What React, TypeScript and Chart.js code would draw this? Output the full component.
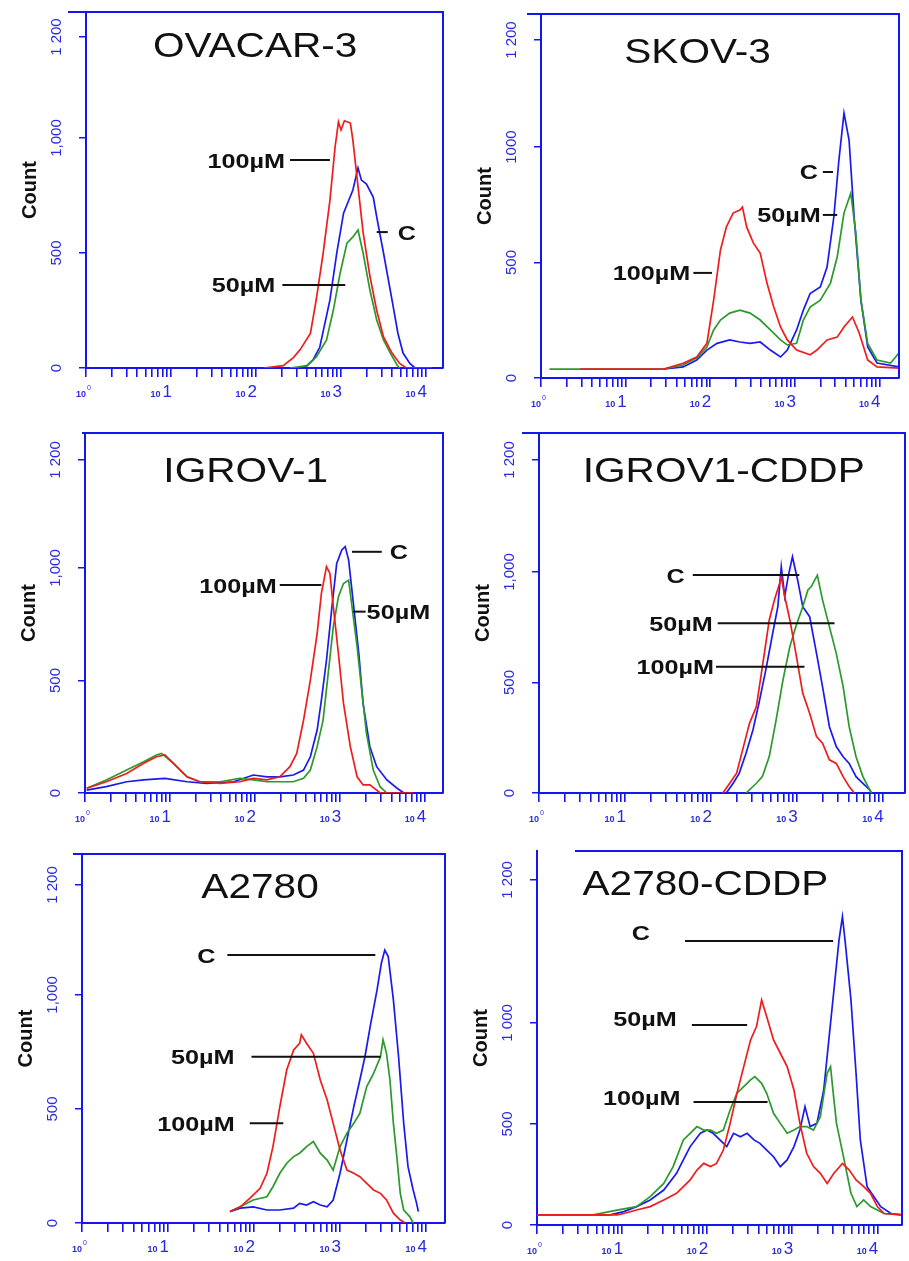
import React, { useEffect, useRef } from 'react';
import { Chart, registerables } from 'chart.js';

Chart.register(...registerables);

type Pt = [number, number]; // [log10 fluorescence, count]

// ---------- OVACAR-3 ----------
const OVACAR_100: Pt[] = [[2.09,0],[2.32,10],[2.44,45],[2.52,80],[2.64,150],[2.71,300],[2.79,500],[2.87,730],[2.93,960],[2.97,1070],[3.0,1035],[3.04,1075],[3.11,1065],[3.14,990],[3.2,790],[3.26,590],[3.34,400],[3.42,250],[3.5,135],[3.6,65],[3.69,20],[3.77,0],[4.07,0]];
const OVACAR_50: Pt[] = [[2.4,0],[2.6,10],[2.71,48],[2.83,122],[2.91,252],[2.99,413],[3.07,543],[3.14,570],[3.17,585],[3.2,600],[3.26,500],[3.34,339],[3.42,209],[3.5,122],[3.58,65],[3.66,13],[3.69,0]];
const OVACAR_C: Pt[] = [[2.52,0],[2.6,10],[2.67,35],[2.75,90],[2.87,296],[2.95,500],[3.03,673],[3.14,774],[3.2,870],[3.24,817],[3.3,800],[3.38,742],[3.42,657],[3.5,500],[3.6,296],[3.67,150],[3.73,65],[3.81,20],[3.87,0]];

// ---------- SKOV-3 ----------
const SKOV_100: Pt[] = [[0.46,38],[1.44,38],[1.68,64],[1.84,91],[1.96,150],[2.04,337],[2.12,554],[2.19,654],[2.27,714],[2.35,727],[2.38,740],[2.43,654],[2.51,584],[2.59,541],[2.67,411],[2.75,307],[2.83,221],[2.91,165],[3.02,121],[3.18,100],[3.26,121],[3.38,165],[3.5,177],[3.58,221],[3.68,264],[3.76,195],[3.86,78],[3.97,48],[4.23,43]];
const SKOV_50: Pt[] = [[0.1,38],[1.44,38],[1.68,56],[1.84,87],[1.96,134],[2.04,208],[2.12,251],[2.23,281],[2.35,294],[2.47,281],[2.59,251],[2.71,208],[2.83,165],[2.91,143],[3.02,150],[3.1,251],[3.18,307],[3.3,337],[3.42,411],[3.5,524],[3.58,714],[3.66,800],[3.72,627],[3.78,337],[3.86,150],[3.97,78],[4.13,65],[4.23,108]];
const SKOV_C: Pt[] = [[1.44,38],[1.68,48],[1.84,78],[1.96,121],[2.08,150],[2.23,165],[2.35,156],[2.47,150],[2.59,156],[2.71,121],[2.83,91],[2.91,121],[3.02,208],[3.1,294],[3.18,366],[3.3,394],[3.38,480],[3.46,697],[3.52,944],[3.58,1147],[3.64,1030],[3.7,697],[3.78,337],[3.86,134],[3.97,65],[4.23,48]];

// ---------- IGROV-1 ----------
const IGROV_100: Pt[] = [[0.02,21],[0.25,50],[0.49,87],[0.69,132],[0.84,161],[0.94,169],[1.04,132],[1.2,72],[1.35,50],[1.59,43],[1.82,50],[1.98,65],[2.14,58],[2.29,72],[2.41,117],[2.49,176],[2.57,324],[2.65,502],[2.73,709],[2.78,887],[2.84,1006],[2.88,976],[2.92,828],[2.98,620],[3.04,398],[3.12,206],[3.2,72],[3.27,36],[3.35,36],[3.43,13],[3.47,0],[3.86,0]];
const IGROV_50: Pt[] = [[0.02,21],[0.25,58],[0.49,102],[0.69,139],[0.84,169],[0.9,176],[1.04,132],[1.2,72],[1.35,50],[1.59,50],[1.82,65],[1.98,58],[2.14,50],[2.29,50],[2.45,50],[2.57,65],[2.65,102],[2.73,206],[2.8,324],[2.86,532],[2.92,739],[2.98,872],[3.04,931],[3.1,946],[3.14,828],[3.2,650],[3.25,472],[3.31,265],[3.39,102],[3.47,28],[3.55,0]];
const IGROV_C: Pt[] = [[0.02,13],[0.25,28],[0.49,50],[0.69,58],[0.94,65],[1.2,50],[1.43,43],[1.75,50],[1.98,80],[2.14,72],[2.29,72],[2.45,80],[2.57,102],[2.65,161],[2.73,280],[2.78,413],[2.84,591],[2.9,813],[2.96,1020],[3.02,1080],[3.06,1095],[3.1,1036],[3.16,828],[3.22,620],[3.27,398],[3.35,206],[3.43,117],[3.55,58],[3.67,21],[3.75,0]];

// ---------- IGROV1-CDDP ----------
const IGCD_100: Pt[] = [[2.14,0],[2.22,44],[2.3,90],[2.37,195],[2.45,315],[2.53,391],[2.6,572],[2.68,783],[2.74,873],[2.8,948],[2.82,979],[2.86,889],[2.92,783],[2.99,632],[3.07,451],[3.15,361],[3.23,255],[3.3,225],[3.38,150],[3.46,134],[3.54,74],[3.61,29],[3.67,0]];
const IGCD_50: Pt[] = [[2.41,0],[2.53,44],[2.6,74],[2.68,165],[2.76,331],[2.84,512],[2.92,663],[2.99,753],[3.07,843],[3.13,919],[3.17,934],[3.21,964],[3.24,985],[3.3,874],[3.38,753],[3.46,632],[3.54,481],[3.61,300],[3.69,164],[3.77,74],[3.83,29],[3.87,0]];
const IGCD_C: Pt[] = [[2.18,0],[2.26,44],[2.33,89],[2.41,180],[2.49,285],[2.56,406],[2.64,557],[2.72,723],[2.78,843],[2.82,1024],[2.86,889],[2.9,979],[2.95,1069],[3.01,964],[3.07,843],[3.15,798],[3.23,632],[3.3,481],[3.38,300],[3.46,210],[3.54,164],[3.61,134],[3.69,74],[3.77,44],[3.85,14],[3.87,0]];

// ---------- A2780 ----------
const A27_100: Pt[] = [[1.72,50],[1.84,71],[1.95,108],[2.07,152],[2.15,218],[2.22,335],[2.3,510],[2.38,671],[2.46,759],[2.53,788],[2.55,825],[2.61,788],[2.69,744],[2.77,627],[2.85,539],[2.92,437],[3.0,320],[3.08,232],[3.16,218],[3.23,203],[3.31,174],[3.39,145],[3.47,130],[3.54,101],[3.62,43],[3.7,13],[3.76,0]];
const A27_50: Pt[] = [[1.72,50],[1.84,71],[1.99,101],[2.15,115],[2.22,159],[2.3,218],[2.38,262],[2.46,291],[2.53,306],[2.61,335],[2.69,357],[2.77,306],[2.85,276],[2.92,232],[3.0,335],[3.08,394],[3.16,437],[3.23,481],[3.31,598],[3.39,656],[3.47,729],[3.5,803],[3.54,744],[3.58,627],[3.62,437],[3.66,291],[3.7,130],[3.74,57],[3.81,28],[3.85,0]];
const A27_C: Pt[] = [[1.72,50],[1.84,65],[1.99,71],[2.15,57],[2.3,57],[2.46,65],[2.53,86],[2.61,79],[2.69,93],[2.77,79],[2.85,71],[2.92,101],[3.0,218],[3.08,364],[3.16,510],[3.23,627],[3.29,730],[3.35,861],[3.43,1022],[3.48,1139],[3.52,1197],[3.56,1168],[3.62,978],[3.68,730],[3.74,437],[3.79,247],[3.85,145],[3.89,86],[3.91,50]];

// ---------- A2780-CDDP ----------
const A27CD_100: Pt[] = [[0,50],[0.94,50],[1.02,57],[1.17,74],[1.33,91],[1.49,124],[1.64,157],[1.72,190],[1.8,223],[1.88,272],[1.96,305],[2.04,289],[2.11,305],[2.19,371],[2.27,503],[2.35,652],[2.43,784],[2.51,916],[2.58,982],[2.64,1114],[2.7,1031],[2.78,916],[2.86,850],[2.94,784],[3.02,668],[3.09,503],[3.17,355],[3.25,289],[3.33,256],[3.41,206],[3.49,256],[3.59,305],[3.67,272],[3.75,223],[3.84,190],[3.92,157],[4.0,91],[4.08,57],[4.29,50]];
const A27CD_50: Pt[] = [[0,50],[0.66,50],[0.94,74],[1.17,91],[1.33,140],[1.49,206],[1.6,289],[1.72,421],[1.8,454],[1.88,487],[1.96,470],[2.04,470],[2.11,454],[2.19,470],[2.27,569],[2.35,652],[2.43,685],[2.51,718],[2.56,734],[2.64,701],[2.7,652],[2.78,553],[2.86,503],[2.94,454],[3.02,470],[3.09,487],[3.17,487],[3.25,470],[3.33,536],[3.41,751],[3.45,784],[3.49,619],[3.52,503],[3.61,322],[3.69,157],[3.76,91],[3.84,124],[3.92,91],[4.0,74],[4.08,57],[4.29,50]];
const A27CD_C: Pt[] = [[0,50],[0.86,50],[1.02,66],[1.17,91],[1.33,124],[1.49,173],[1.64,256],[1.72,322],[1.8,388],[1.92,454],[2.0,470],[2.07,454],[2.15,421],[2.23,388],[2.31,454],[2.39,437],[2.47,454],[2.55,421],[2.62,404],[2.7,371],[2.78,338],[2.86,289],[2.94,322],[3.02,388],[3.09,470],[3.15,586],[3.21,487],[3.29,503],[3.37,668],[3.43,916],[3.49,1163],[3.55,1411],[3.59,1526],[3.62,1411],[3.69,1114],[3.75,751],[3.8,421],[3.88,190],[3.96,140],[4.04,91],[4.16,57],[4.29,50]];

// ---------- axis ticks ----------
const X_DECADES = [0, 1, 2, 3, 4];
const X_MULTIPLIERS = [1, 2, 3, 4, 5, 6, 7, 8, 9];
const Y_LABELS_COMMA = ['0', '500', '1,000', '1 200'];
const Y_LABELS_PLAIN = ['0', '500', '1000', '1 200'];
const Y_LABELS_SPACE = ['0', '500', '1 000', '1 200'];

// ---------- styles ----------
const AXIS_BLUE = '#1515f2';
const TEXT_BLUE = '#2a2ade';
const RED = '#f01c1c';
const GREEN = '#2b9a2b';
const BLUE = '#1a1af0';
const FONT = '"Liberation Sans", Arial, Helvetica, sans-serif';
const AXIS_W = 86;
const PAD_T = 10;
const PAD_R = 4;
const XAXIS_H = 36;

interface Note { text: string; x1: number; x2: number; y: number; side: 'left' | 'right'; gap: number; dy?: number }
interface PanelSpec {
  title: string;
  titleAt: [number, number];
  area: { left: number; top: number; right: number; bottom: number };
  frameTopFrom: number;
  xMaxExp: number;
  yMax: number;
  yTicks: number[];
  yLabels: string[];
  red: Pt[]; green: Pt[]; blue: Pt[];
  notes: Note[];
}

const PANELS: PanelSpec[] = [
  {
    title: 'OVACAR-3', titleAt: [1.99, 1406],
    area: { left: 86, top: 12, right: 443, bottom: 368 }, frameTopFrom: -18,
    xMaxExp: 4.2, yMax: 1548, yTicks: [0, 500, 1000, 1439], yLabels: Y_LABELS_COMMA,
    red: OVACAR_100, green: OVACAR_50, blue: OVACAR_C,
    notes: [
      { text: '100µM', x1: 2.4, x2: 2.87, y: 904, side: 'left', gap: 5 },
      { text: 'C', x1: 3.42, x2: 3.55, y: 591, side: 'right', gap: 10 },
      { text: '50µM', x1: 2.31, x2: 3.05, y: 361, side: 'left', gap: 7 },
    ],
  },
  {
    title: 'SKOV-3', titleAt: [1.85, 1420],
    area: { left: 541, top: 14, right: 899, bottom: 378 }, frameTopFrom: -14,
    xMaxExp: 4.23, yMax: 1576, yTicks: [0, 500, 1000, 1463], yLabels: Y_LABELS_PLAIN,
    red: SKOV_100, green: SKOV_50, blue: SKOV_C,
    notes: [
      { text: 'C', x1: 3.33, x2: 3.45, y: 892, side: 'left', gap: 5 },
      { text: '50µM', x1: 3.33, x2: 3.5, y: 706, side: 'left', gap: 2 },
      { text: '100µM', x1: 1.8, x2: 2.02, y: 455, side: 'left', gap: 3 },
    ],
  },
  {
    title: 'IGROV-1', titleAt: [1.89, 1436],
    area: { left: 85, top: 433, right: 443, bottom: 793 }, frameTopFrom: -3,
    xMaxExp: 4.21, yMax: 1600, yTicks: [0, 500, 1000, 1480], yLabels: Y_LABELS_COMMA,
    red: IGROV_100, green: IGROV_50, blue: IGROV_C,
    notes: [
      { text: 'C', x1: 3.14, x2: 3.49, y: 1072, side: 'right', gap: 8 },
      { text: '100µM', x1: 2.29, x2: 2.78, y: 924, side: 'left', gap: 3 },
      { text: '50µM', x1: 3.15, x2: 3.3, y: 806, side: 'right', gap: 1 },
    ],
  },
  {
    title: 'IGROV1-CDDP', titleAt: [2.15, 1462],
    area: { left: 539, top: 433, right: 905, bottom: 793 }, frameTopFrom: -17,
    xMaxExp: 4.26, yMax: 1629, yTicks: [0, 500, 1000, 1507], yLabels: Y_LABELS_COMMA,
    red: IGCD_100, green: IGCD_50, blue: IGCD_C,
    notes: [
      { text: 'C', x1: 1.79, x2: 3.03, y: 986, side: 'left', gap: 8 },
      { text: '50µM', x1: 2.08, x2: 3.44, y: 768, side: 'left', gap: 5 },
      { text: '100µM', x1: 2.06, x2: 3.09, y: 571, side: 'left', gap: 2 },
    ],
  },
  {
    title: 'A2780', titleAt: [2.07, 1478],
    area: { left: 82, top: 854, right: 445, bottom: 1223 }, frameTopFrom: -9,
    xMaxExp: 4.22, yMax: 1618, yTicks: [0, 500, 1000, 1482], yLabels: Y_LABELS_COMMA,
    red: A27_100, green: A27_50, blue: A27_C,
    notes: [
      { text: 'C', x1: 1.69, x2: 3.41, y: 1175, side: 'left', gap: 12 },
      { text: '50µM', x1: 1.97, x2: 3.47, y: 729, side: 'left', gap: 17 },
      { text: '100µM', x1: 1.95, x2: 2.34, y: 437, side: 'left', gap: 15 },
    ],
  },
  {
    title: 'A2780-CDDP', titleAt: [1.98, 1693],
    area: { left: 537, top: 851, right: 902, bottom: 1225 }, frameTopFrom: 38,
    xMaxExp: 4.29, yMax: 1851, yTicks: [0, 500, 1000, 1708], yLabels: Y_LABELS_SPACE,
    red: A27CD_100, green: A27CD_50, blue: A27CD_C,
    notes: [
      { text: 'C', x1: 1.74, x2: 3.48, y: 1406, side: 'left', gap: 35, dy: -8 },
      { text: '50µM', x1: 1.82, x2: 2.47, y: 990, side: 'left', gap: 15, dy: -6 },
      { text: '100µM', x1: 1.84, x2: 2.71, y: 609, side: 'left', gap: 13, dy: -4 },
    ],
  },
];

function makeDecor(spec: PanelSpec) {
  return {
    id: 'decor',
    afterDraw(chart: any) {
      const ctx: CanvasRenderingContext2D = chart.ctx;
      const xs = chart.scales.x;
      const ys = chart.scales.y;
      const { left, right, top, bottom } = chart.chartArea;
      const px = (e: number) => xs.getPixelForValue(Math.pow(10, e));
      const py = (c: number) => ys.getPixelForValue(c);
      ctx.save();

      // frame (top + right)
      ctx.strokeStyle = AXIS_BLUE;
      ctx.lineWidth = 2;
      ctx.beginPath();
      ctx.moveTo(left + spec.frameTopFrom, top);
      ctx.lineTo(right, top);
      ctx.lineTo(right, bottom);
      ctx.stroke();

      // y tick labels (rotated)
      ctx.fillStyle = TEXT_BLUE;
      ctx.font = `15px ${FONT}`;
      ctx.textAlign = 'center';
      ctx.textBaseline = 'alphabetic';
      spec.yTicks.forEach((v, i) => {
        ctx.save();
        ctx.translate(left - 30, py(v));
        ctx.rotate(-Math.PI / 2);
        ctx.fillText(spec.yLabels[i], 0, 15 * 0.358);
        ctx.restore();
      });

      // y title
      ctx.fillStyle = '#111';
      ctx.font = `bold 20px ${FONT}`;
      ctx.save();
      ctx.translate(left - 57, (top + bottom) / 2);
      ctx.rotate(-Math.PI / 2);
      ctx.fillText('Count', 0, 20 * 0.358);
      ctx.restore();

      // x decade labels
      ctx.fillStyle = TEXT_BLUE;
      const base = bottom + 29;
      X_DECADES.forEach((k) => {
        const x = px(k);
        if (k === 0) {
          ctx.font = `bold 9px ${FONT}`;
          ctx.textAlign = 'right';
          ctx.fillText('10', x, base);
          ctx.font = `7px ${FONT}`;
          ctx.textAlign = 'left';
          ctx.fillText(String(k), x + 1, base - 7);
        } else {
          ctx.font = `17px ${FONT}`;
          ctx.textAlign = 'right';
          ctx.fillText(String(k), x + 1, base);
          const w = ctx.measureText(String(k)).width;
          ctx.font = `bold 9px ${FONT}`;
          ctx.fillText('10', x - w - 1, base);
        }
      });

      // title
      ctx.fillStyle = '#111';
      ctx.font = `35px ${FONT}`;
      ctx.textAlign = 'center';
      ctx.save();
      ctx.translate(px(spec.titleAt[0]), py(spec.titleAt[1]) + 35 * 0.358);
      ctx.scale(1.16, 1);
      ctx.fillText(spec.title, 0, 0);
      ctx.restore();

      // annotations
      ctx.strokeStyle = '#111';
      ctx.lineWidth = 2;
      ctx.font = `bold 21px ${FONT}`;
      spec.notes.forEach((n) => {
        const x1 = px(n.x1);
        const x2 = px(n.x2);
        const y = py(n.y);
        ctx.beginPath();
        ctx.moveTo(x1, y);
        ctx.lineTo(x2, y);
        ctx.stroke();
        const ty = y + 21 * 0.358 + (n.dy || 0);
        ctx.save();
        if (n.side === 'left') {
          ctx.translate(x1 - n.gap, ty);
          ctx.textAlign = 'right';
        } else {
          ctx.translate(x2 + n.gap, ty);
          ctx.textAlign = 'left';
        }
        ctx.scale(1.2, 1);
        ctx.fillText(n.text, 0, 0);
        ctx.restore();
      });

      ctx.restore();
    },
  };
}

function toXY(pts: Pt[]) {
  return pts.map(([e, c]) => ({ x: Math.pow(10, e), y: c }));
}

function Panel({ spec }: { spec: PanelSpec }) {
  const ref = useRef<HTMLCanvasElement | null>(null);
  const W = spec.area.right - spec.area.left + AXIS_W + PAD_R;
  const H = spec.area.bottom - spec.area.top + PAD_T + XAXIS_H;

  useEffect(() => {
    if (!ref.current) return;
    const xMax = Math.pow(10, spec.xMaxExp);
    const xTicks: number[] = [];
    X_DECADES.forEach((k) => X_MULTIPLIERS.forEach((m) => {
      const v = m * Math.pow(10, k);
      if (v <= xMax) xTicks.push(v);
    }));
    const line = (pts: Pt[], color: string) => ({
      data: toXY(pts),
      borderColor: color,
      borderWidth: 1.7,
      pointRadius: 0,
      fill: false,
      tension: 0,
    });
    const chart = new Chart(ref.current, {
      type: 'line',
      data: {
        datasets: [line(spec.red, RED), line(spec.green, GREEN), line(spec.blue, BLUE)] as any,
      },
      options: {
        responsive: false,
        animation: false,
        events: [],
        layout: { padding: { top: PAD_T, right: PAD_R, left: 0, bottom: 0 } },
        plugins: { legend: { display: false }, tooltip: { enabled: false }, title: { display: false } },
        scales: {
          x: {
            type: 'logarithmic',
            min: 1,
            max: xMax,
            afterBuildTicks: (s: any) => { s.ticks = xTicks.map((v) => ({ value: v })); },
            afterFit: (s: any) => { s.height = XAXIS_H; },
            ticks: { display: false },
            grid: { display: true, drawOnChartArea: false, drawTicks: true, tickLength: 9, color: AXIS_BLUE, lineWidth: 1.6 },
            border: { display: true, color: AXIS_BLUE, width: 2 },
          },
          y: {
            type: 'linear',
            min: 0,
            max: spec.yMax,
            afterBuildTicks: (s: any) => { s.ticks = spec.yTicks.map((v) => ({ value: v })); },
            afterFit: (s: any) => { s.width = AXIS_W; },
            ticks: { display: false },
            grid: { display: true, drawOnChartArea: false, drawTicks: true, tickLength: 7, color: AXIS_BLUE, lineWidth: 1.5 },
            border: { display: true, color: AXIS_BLUE, width: 2 },
          },
        },
      } as any,
      plugins: [makeDecor(spec)],
    });
    return () => chart.destroy();
  }, []);

  return (
    <canvas
      ref={ref}
      width={W}
      height={H}
      style={{ position: 'absolute', left: spec.area.left - AXIS_W, top: spec.area.top - PAD_T, width: W, height: H }}
    />
  );
}

export default function App() {
  return (
    <div style={{ position: 'absolute', left: 0, top: 0, width: 909, height: 1261, overflow: 'hidden', background: '#fff' }}>
      {PANELS.map((p) => (
        <Panel key={p.title} spec={p} />
      ))}
    </div>
  );
}
